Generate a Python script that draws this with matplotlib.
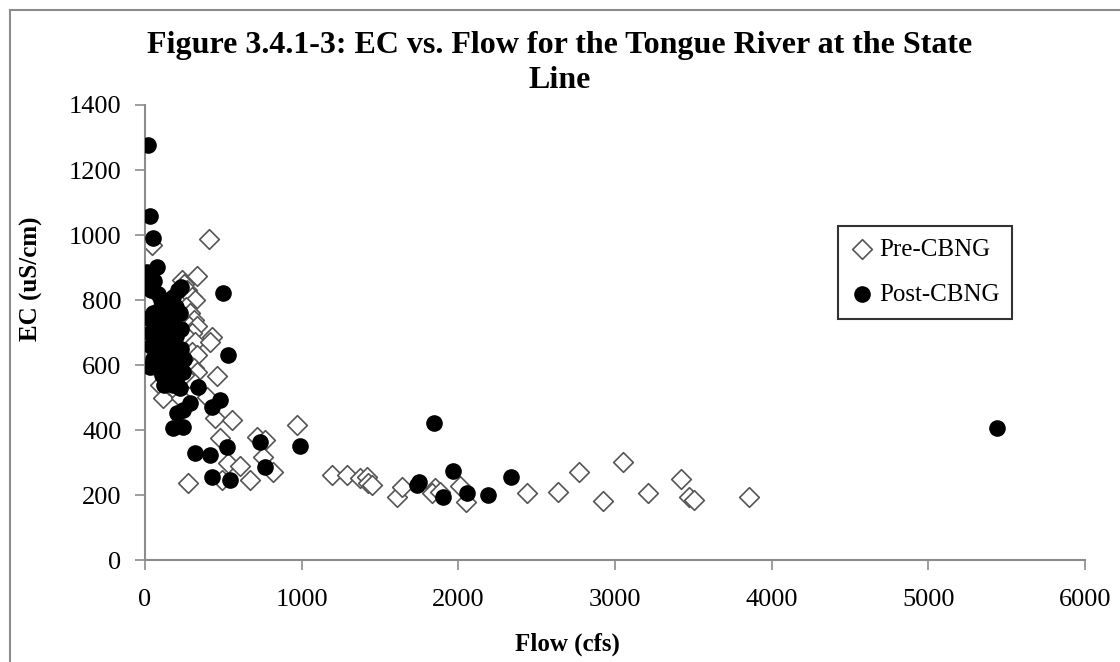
import matplotlib.pyplot as plt
from matplotlib.lines import Line2D

# Pre-CBNG samples (flow in cfs, EC in uS/cm)
pre_flow = [45, 32, 40, 60, 96, 115, 150, 200,
            236, 250, 270, 300, 319, 332, 409,
            260, 290, 310, 280, 330, 300, 260, 320, 428, 415,
            300, 330, 270, 310, 332, 280, 250, 460,
            230, 396, 447, 556, 479, 530, 607, 671, 492, 275,
            716, 767, 754, 818, 971,
            1195, 1291, 1374, 1418, 1425, 1450,
            1610, 1642, 1853, 1830, 1880, 2013, 2050, 2441, 2639, 2767,
            2920, 3048, 3208, 3419, 3470, 3502, 3853]
pre_ec = [970, 686, 640, 600, 538, 498, 540, 520,
          862, 850, 830, 810, 800, 874, 988,
          780, 760, 740, 720, 720, 700, 690, 670, 686, 671,
          640, 630, 610, 590, 578, 560, 570, 566,
          500, 502, 437, 431, 375, 298, 289, 246, 246, 237,
          378, 369, 317, 271, 415,
          262, 262, 252, 255, 237, 231,
          194, 225, 222, 205, 210, 228, 180, 206, 209, 271,
          182, 302, 206, 249, 194, 185, 194]

# Post-CBNG samples
post_flow = [19, 32, 51, 77, 13, 498, 530, 30,
             20, 40, 60, 80, 100, 120, 150, 180, 210, 230, 200,
             20, 50, 70, 90, 110, 130, 160, 190, 220,
             30, 60, 80, 100, 130, 150, 180, 200, 230,
             40, 70, 90, 120, 140, 170, 200, 230, 250,
             50, 80, 100, 130, 160, 190, 220, 240,
             110, 150, 180, 200, 220, 120,
             339, 479, 428, 288, 243, 204, 179, 243, 320, 415, 524,
             428, 543, 735, 767, 990, 1847, 1738, 1750, 1904, 1968,
             2058, 2192, 2339, 5440]
post_ec = [1277, 1058, 991, 902, 886, 822, 631, 595,
           840, 830, 860, 820, 800, 790, 800, 810, 830, 840, 780,
           745, 760, 740, 770, 750, 760, 740, 750, 760,
           700, 710, 690, 720, 700, 680, 700, 690, 710,
           660, 650, 670, 640, 660, 650, 640, 650, 620,
           620, 600, 620, 610, 600, 610, 590, 580,
           570, 560, 540, 550, 530, 540,
           532, 492, 471, 483, 461, 452, 406, 409, 329, 323, 348,
           255, 246, 363, 286, 351, 422, 231, 240, 194, 274,
           206, 200, 256, 405]

plt.rcParams['font.family'] = ['Liberation Serif', 'DejaVu Serif']

fig = plt.figure(figsize=(11.2, 6.62), dpi=100)
ax = fig.add_axes([0.1295, 0.154, 0.8393, 0.6874])

ax.scatter(pre_flow, pre_ec, marker='D', s=100, facecolors='white',
           edgecolors='#555555', linewidths=1.2, label='Pre-CBNG', zorder=2)
ax.scatter(post_flow, post_ec, marker='o', s=120, color='black',
           label='Post-CBNG', zorder=3)

ax.set_xlim(0, 6000)
ax.set_ylim(0, 1400)
ax.set_xticks(range(0, 6001, 1000))
ax.set_yticks(range(0, 1401, 200))
ax.spines['top'].set_visible(False)
ax.spines['right'].set_visible(False)
for s in ['left', 'bottom']:
    ax.spines[s].set_color('#8c8c8c')
    ax.spines[s].set_linewidth(1.5)
ax.tick_params(axis='both', colors='#8c8c8c', length=7, width=1.2,
               labelsize=19, labelcolor='black')
ax.tick_params(axis='x', pad=14)
ax.tick_params(axis='y', pad=10)

fig.text(0.5, 0.932, 'Figure 3.4.1-3: EC vs. Flow for the Tongue River at the State',
         ha='center', va='center', fontsize=23, fontweight='bold')
fig.text(0.5, 0.878, 'Line', ha='center', va='center', fontsize=23,
         fontweight='bold')
fig.text(0.507, 0.026, 'Flow (cfs)', ha='center', va='center',
         fontsize=18, fontweight='bold')
fig.text(0.028, 1 - 279 / 662, 'EC (uS/cm)', ha='center', va='center',
         rotation=90, fontsize=18, fontweight='bold')

leg = ax.legend(loc='upper left', bbox_to_anchor=(0.737, 0.734),
                borderaxespad=0, fontsize=18, labelspacing=0.9,
                handletextpad=0.25, handlelength=0.9, borderpad=0.5,
                fancybox=False, frameon=True)
leg.get_frame().set_edgecolor('black')
leg.get_frame().set_linewidth(1.5)

# chart area border (cropped at right/bottom)
fig.add_artist(Line2D([10 / 1120, 10 / 1120], [0, 1 - 10 / 662],
                      transform=fig.transFigure, color='#8c8c8c', lw=1.5))
fig.add_artist(Line2D([10 / 1120, 1], [1 - 10 / 662, 1 - 10 / 662],
                      transform=fig.transFigure, color='#8c8c8c', lw=1.5))

fig.savefig('out.png', dpi=100)
